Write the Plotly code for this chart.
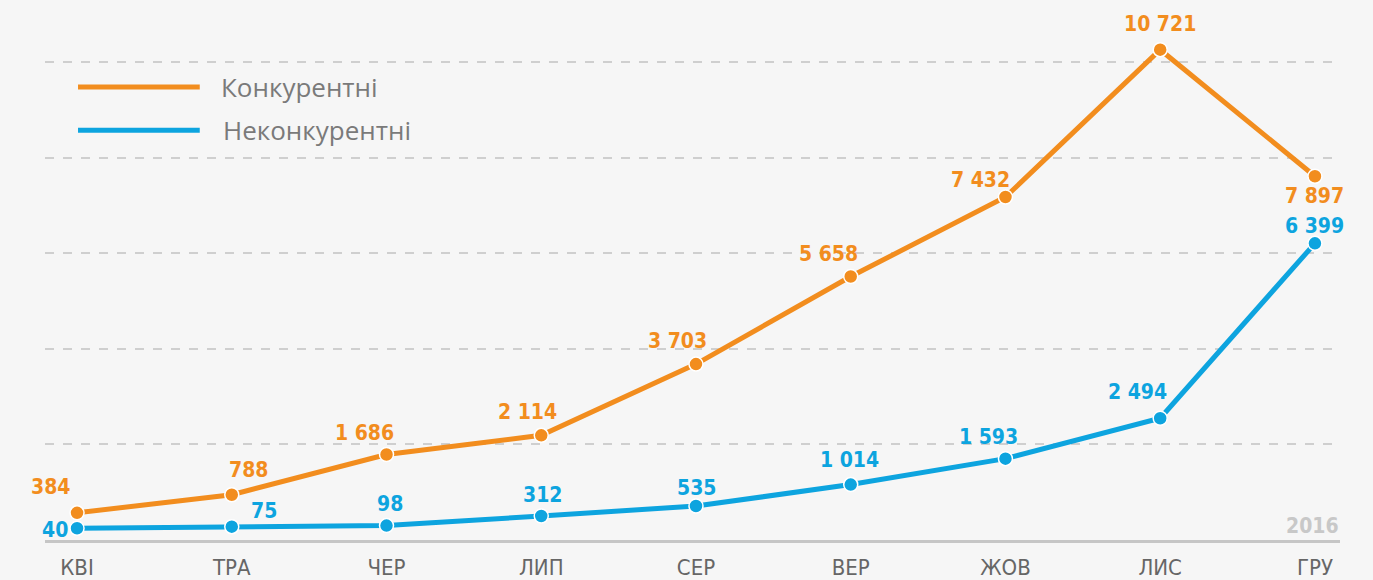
import plotly.graph_objects as go

months = ["КВІ", "ТРА", "ЧЕР", "ЛИП", "СЕР", "ВЕР", "ЖОВ", "ЛИС", "ГРУ"]
competitive = [384, 788, 1686, 2114, 3703, 5658, 7432, 10721, 7897]
noncompetitive = [40, 75, 98, 312, 535, 1014, 1593, 2494, 6399]
series_names = ["Конкурентні", "Неконкурентні"]
year_label = "2016"

ORANGE = "#F28D1E"
BLUE = "#0DA4DF"
BG = "#F6F6F6"

# label offsets (px) per point
orange_shift = [(-27, 26), (17, 25), (-22, 21), (-14, 23), (-18, 23), (-22, 23), (-25, 17), (0, 26), (0, -20)]
blue_shift = [(-22, -2), (32, 16), (3, 22), (1, 21), (1, 18), (-1, 25), (-17, 22), (-23, 26), (0, 17)]

def fmt(v):
    return f"{v:,}".replace(",", " ")

fig = go.Figure()
for vals, color, name in [(competitive, ORANGE, series_names[0]), (noncompetitive, BLUE, series_names[1])]:
    fig.add_trace(go.Scatter(
        x=list(range(len(months))), y=vals, mode="lines+markers", name=name,
        line=dict(color=color, width=5),
        marker=dict(size=14, color=color, line=dict(color="white", width=1.5)),
        showlegend=False, hoverinfo="skip",
    ))

annotations = []
for vals, color, shifts in [(competitive, ORANGE, orange_shift), (noncompetitive, BLUE, blue_shift)]:
    for i, (v, (dx, dy)) in enumerate(zip(vals, shifts)):
        annotations.append(dict(
            x=i, y=v, xref="x", yref="y", text=f"<b>{fmt(v)}</b>", showarrow=False,
            xshift=dx, yshift=dy,
            font=dict(family="DejaVu Sans Condensed, Roboto, sans-serif", size=21, color=color),
        ))

# legend (custom)
shapes = []
for yp, color, name, xt in [(0.839, ORANGE, series_names[0], 0.1345), (0.759, BLUE, series_names[1], 0.136)]:
    shapes.append(dict(type="line", xref="paper", yref="paper", x0=0.0255, x1=0.1195, y0=yp, y1=yp,
                       line=dict(color=color, width=5)))
    annotations.append(dict(x=xt, y=yp, xref="paper", yref="paper", text=name, showarrow=False,
                            xanchor="left", yanchor="middle",
                            font=dict(family="Open Sans, Roboto, sans-serif", size=26, color="#7A7A7A")))

annotations.append(dict(x=1.001, y=0, xref="paper", yref="paper", text=f"<b>{year_label}</b>", showarrow=False,
                        xanchor="right", yanchor="bottom", yshift=0,
                        font=dict(family="DejaVu Sans Condensed, Roboto, sans-serif", size=21, color="#C8C8C8")))

fig.update_layout(
    width=1373, height=580,
    margin=dict(l=45, r=33, t=0, b=40),
    paper_bgcolor=BG, plot_bgcolor=BG,
    annotations=annotations, shapes=shapes,
    xaxis=dict(
        range=[-0.207, 8.162], tickmode="array", tickvals=list(range(len(months))), ticktext=months,
        showgrid=False, zeroline=False, showline=True, linecolor="#C6C6C6", linewidth=3,
        ticks="", ticklabelstandoff=6,
        tickfont=dict(family="DejaVu Sans Condensed, Roboto, sans-serif", size=22, color="#666666"),
    ),
    yaxis=dict(
        range=[-223, 11830], tick0=-223, dtick=2134, showticklabels=False,
        showgrid=True, gridcolor="#CFCFCF", gridwidth=1.5, griddash="dash", zeroline=False,
    ),
)

fig.write_html(
    "out.html",
    config={"displayModeBar": False},
    post_script="document.body.style.margin='0';document.body.style.overflow='hidden';document.body.style.background='#F6F6F6';",
)
